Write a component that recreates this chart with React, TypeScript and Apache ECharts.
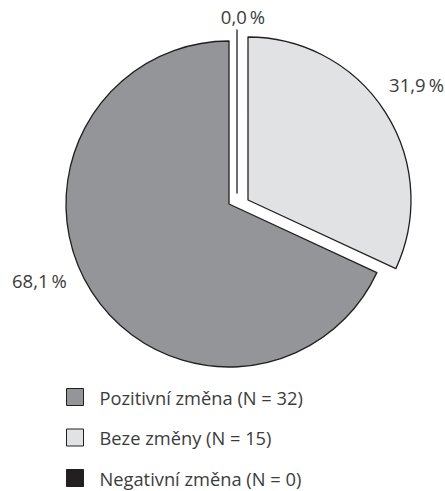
import React, { useEffect, useRef } from "react";
import * as echarts from "echarts";

const categories = ["Pozitivní změna", "Beze změny", "Negativní změna"];
const counts = [32, 15, 0];

const colors = ["#949599", "#e1e2e3", "#231f20"];
const borderColor = "#231f20";
const textColor = "#3c3c3c";
const FONT = "'Open Sans', sans-serif";

// slice geometry (centres of each drawn/exploded slice)
const R = 163;
const centers: [number, number][] = [
  [229, 204],
  [248, 200],
  [237, 193],
];
// label anchors
const labelAnchors = [
  { x: 12, y: 280, align: "left" },
  { x: 444, y: 84, align: "right" },
  { x: 243, y: 16, align: "center" },
];

const total = counts.reduce((a, b) => a + b, 0);
const names = categories.map((c, i) => `${c} (N = ${counts[i]})`);
const pct = (v: number) => ((v / total) * 100).toFixed(1).replace(".", ",") + "\u2009%";

export default function App() {
  const ref = useRef<HTMLDivElement>(null);
  useEffect(() => {
    if (!ref.current) return;
    const chart = echarts.init(ref.current, undefined, { renderer: "svg" });

    const series = categories.map((_, visibleIdx) => ({
      type: "pie",
      center: centers[visibleIdx],
      radius: R,
      startAngle: 90,
      clockwise: false,
      silent: true,
      avoidLabelOverlap: false,
      stillShowZeroSum: true,
      emphasis: { disabled: true },
      labelLine: { show: false },
      data: counts.map((v, i) => {
        const visible = i === visibleIdx;
        return {
          name: names[i],
          value: v,
          itemStyle: visible
            ? { color: colors[i] === "#231f20" ? "none" : colors[i], borderColor, borderWidth: 1.3 }
            : { color: "rgba(0,0,0,0)", borderWidth: 0, borderColor: "rgba(0,0,0,0)" },
          label: visible
            ? {
                show: true,
                position: "outside",
                formatter: () => pct(v),
                color: textColor,
                fontSize: 18.5,
                fontFamily: FONT,
              }
            : { show: false },
        };
      }),
      labelLayout: (params: any) => {
        const a = labelAnchors[params.dataIndex];
        return { x: a.x, y: a.y, align: a.align, verticalAlign: "middle" };
      },
    }));

    chart.setOption({
      animation: false,
      legend: {
        orient: "vertical",
        left: 66,
        top: 388,
        height: 103,
        padding: 0,
        itemWidth: 17,
        itemHeight: 17,
        itemGap: 22.5,
        icon: "rect",
        selectedMode: false,
        textStyle: {
          color: textColor,
          fontSize: 18.3,
          lineHeight: 17,
          fontFamily: FONT,
          padding: [0, 0, 0, 11],
        },
        data: names.map((n, i) => ({
          name: n,
          itemStyle: { color: colors[i], borderColor, borderWidth: 1 },
        })),
      },
      series,
    });
    return () => chart.dispose();
  }, []);
  return (
    <div
      ref={ref}
      style={{ position: "absolute", left: 0, top: 0, width: 445, height: 491, background: "#fff" }}
    />
  );
}
